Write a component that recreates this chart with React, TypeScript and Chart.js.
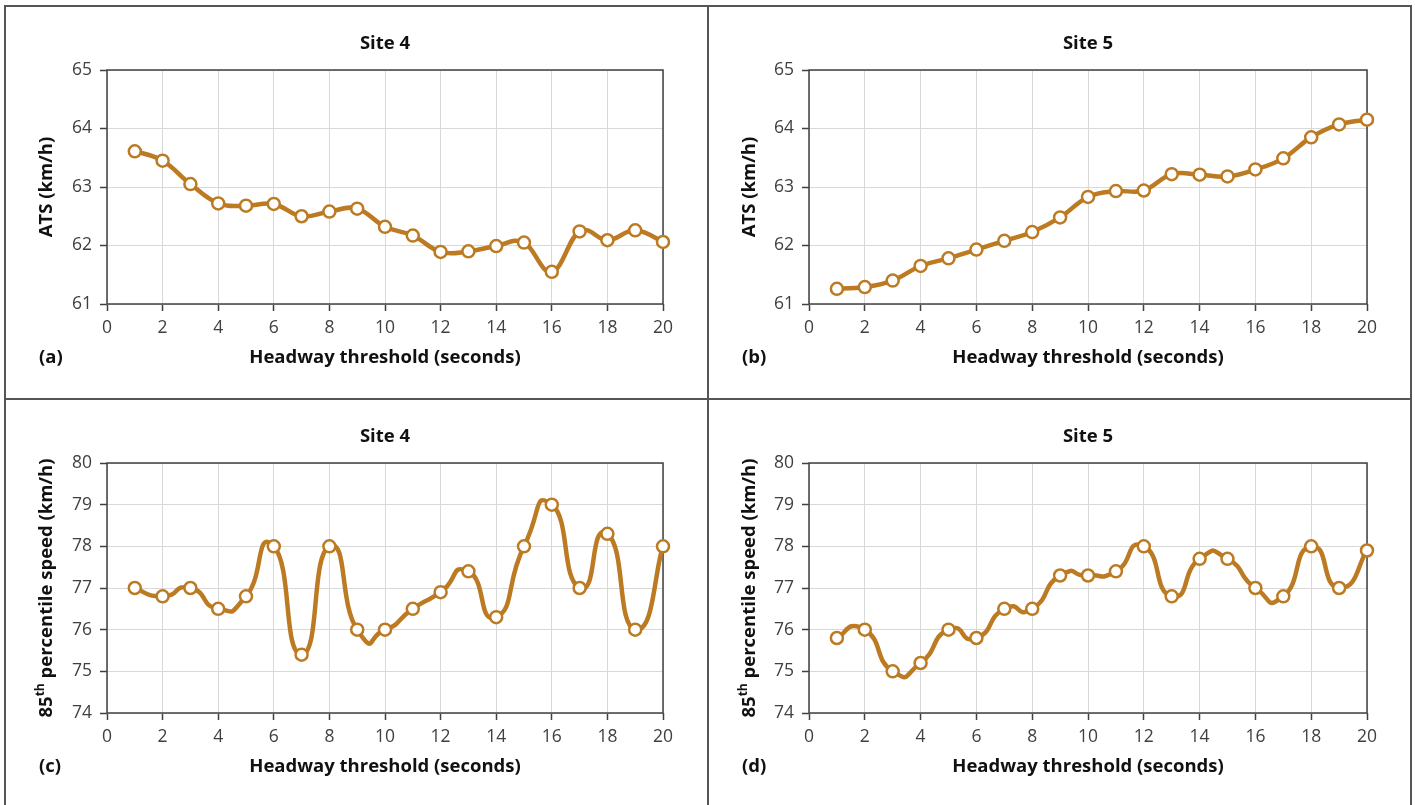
import React, { useEffect, useRef } from 'react';
import { Chart, registerables } from 'chart.js';

Chart.register(...registerables);

// ---------- data ----------
const headway = [1, 2, 3, 4, 5, 6, 7, 8, 9, 10, 11, 12, 13, 14, 15, 16, 17, 18, 19, 20];
const site4ATS = [63.61, 63.45, 63.05, 62.72, 62.68, 62.71, 62.5, 62.58, 62.63, 62.32, 62.17, 61.89, 61.9, 61.99, 62.05, 61.55, 62.24, 62.09, 62.26, 62.06];
const site5ATS = [61.26, 61.29, 61.4, 61.65, 61.78, 61.93, 62.08, 62.23, 62.48, 62.83, 62.93, 62.94, 63.22, 63.21, 63.18, 63.3, 63.49, 63.85, 64.07, 64.15];
const site4P85 = [77, 76.8, 77, 76.5, 76.8, 78, 75.4, 78, 76, 76, 76.5, 76.9, 77.4, 76.3, 78, 79, 77, 78.3, 76, 78];
const site5P85 = [75.8, 76, 75, 75.2, 76, 75.8, 76.5, 76.5, 77.3, 77.3, 77.4, 78, 76.8, 77.7, 77.7, 77, 76.8, 78, 77, 77.9];
const xRange = [0, 20];
const xStep = 2;
const atsRange = [61, 65];
const p85Range = [74, 80];
const xTitle = 'Headway threshold (seconds)';

const LINE = '#BC7A22';
const TEXT = '#404040';
const FONT = '"Open Sans", "Noto Sans", sans-serif';
// control-point offset as a fraction of the chord between the two neighbours
const CP_TOP = 0.2;
const CP_BOTTOM = 1 / 3;

type YTitlePart = { text: string; sup?: boolean };

// Excel-like smoothed line: override the Bezier control points of the line element
const smoothPlugin = {
  id: 'excelSmooth',
  beforeDatasetsDraw(chart: any, _args: any, opts: any) {
    const frac = opts && typeof opts.fraction === 'number' ? opts.fraction : 1 / 6;
    chart.getSortedVisibleDatasetMetas().forEach((meta: any) => {
      const line = meta.dataset;
      const pts = meta.data;
      if (!line || !pts || !pts.length) return;
      if (line.updateControlPoints) line.updateControlPoints(chart.chartArea, 'x');
      const n = pts.length;
      for (let i = 0; i < n; i++) {
        const p = pts[Math.max(0, i - 1)];
        const c = pts[i];
        const q = pts[Math.min(n - 1, i + 1)];
        const dx = (q.x - p.x) * frac;
        const dy = (q.y - p.y) * frac;
        c.cp1x = c.x - dx;
        c.cp1y = c.y - dy;
        c.cp2x = c.x + dx;
        c.cp2y = c.y + dy;
      }
      line._pointsUpdated = true;
      line._path = undefined;
    });
  },
};

const decoPlugin = {
  id: 'panelDeco',
  beforeDatasetsDraw(chart: any) {
    const { ctx, chartArea: a } = chart;
    ctx.save();
    ctx.strokeStyle = '#404040';
    ctx.lineWidth = 1.5;
    ctx.strokeRect(a.left, a.top, a.right - a.left, a.bottom - a.top);
    ctx.restore();
  },
  afterDraw(chart: any, _args: any, opts: any) {
    const { ctx, chartArea: a } = chart;
    const cx = (a.left + a.right) / 2;
    const cy = (a.top + a.bottom) / 2;
    ctx.save();
    ctx.fillStyle = '#111';
    ctx.textBaseline = 'middle';
    const normal = `bold 18.5px ${FONT}`;
    const small = `bold 12px ${FONT}`;
    ctx.textAlign = 'center';
    ctx.font = normal;
    ctx.fillText(opts.title, cx, a.top - 26);
    ctx.fillText(opts.xTitle, cx, a.bottom + 54);
    ctx.textAlign = 'left';
    ctx.fillText(opts.letter, opts.letterX, a.bottom + 54);
    const parts: YTitlePart[] = opts.yTitle;
    let total = 0;
    const widths = parts.map((p) => {
      ctx.font = p.sup ? small : normal;
      const w = ctx.measureText(p.text).width;
      total += w;
      return w;
    });
    ctx.translate(opts.yTitleX, cy);
    ctx.rotate(-Math.PI / 2);
    let x = -total / 2;
    parts.forEach((p, i) => {
      ctx.font = p.sup ? small : normal;
      ctx.fillText(p.text, x, p.sup ? -6 : 0);
      x += widths[i];
    });
    ctx.restore();
  },
};

type PanelProps = {
  box: { left: number; top: number; w: number; h: number };
  plot: { x0: number; y0: number; x1: number; y1: number };
  values: number[];
  yRange: number[];
  title: string;
  yTitle: YTitlePart[];
  letter: string;
  smooth: number;
};

function Panel({ box, plot, values, yRange, title, yTitle, letter, smooth }: PanelProps) {
  const ref = useRef<HTMLCanvasElement | null>(null);
  useEffect(() => {
    if (!ref.current) return;
    const yAxisWidth = plot.x0 - box.left;
    const xAxisHeight = box.top + box.h - plot.y1;
    const chart = new Chart(ref.current, {
      type: 'line',
      data: {
        datasets: [
          {
            data: headway.map((x, i) => ({ x, y: values[i] })),
            borderColor: LINE,
            borderWidth: 4.5,
            backgroundColor: '#ffffff',
            pointBackgroundColor: '#ffffff',
            pointBorderColor: LINE,
            pointBorderWidth: 2.5,
            pointRadius: 6,
            tension: 0.4,
            clip: false as any,
            fill: false,
          },
        ],
      },
      options: {
        animation: false,
        responsive: false,
        events: [],
        layout: {
          padding: {
            left: 0,
            top: plot.y0 - box.top,
            right: box.left + box.w - plot.x1,
            bottom: 0,
          },
        },
        plugins: {
          legend: { display: false },
          tooltip: { enabled: false },
          excelSmooth: { fraction: smooth },
          panelDeco: {
            title,
            xTitle,
            yTitle,
            letter,
            letterX: 33,
            yTitleX: 41,
          },
        } as any,
        scales: {
          x: {
            type: 'linear',
            min: xRange[0],
            max: xRange[1],
            afterFit: (s: any) => {
              s.height = xAxisHeight;
            },
            ticks: { stepSize: xStep, color: TEXT, font: { family: FONT, size: 17.5 }, padding: 7, maxRotation: 0 },
            grid: { color: '#d9d9d9', lineWidth: 1, tickLength: 7, tickColor: '#404040', tickWidth: 1.5 },
            border: { display: false },
          },
          y: {
            min: yRange[0],
            max: yRange[1],
            afterFit: (s: any) => {
              s.width = yAxisWidth;
            },
            ticks: { stepSize: 1, color: TEXT, font: { family: FONT, size: 17.5 }, padding: 8 },
            grid: { color: '#d9d9d9', lineWidth: 1, tickLength: 7, tickColor: '#404040', tickWidth: 1.5 },
            border: { display: false },
          },
        },
      },
      plugins: [decoPlugin, smoothPlugin],
    } as any);
    return () => chart.destroy();
  }, []);
  return (
    <canvas
      ref={ref}
      width={box.w}
      height={box.h}
      style={{ position: 'absolute', left: box.left, top: box.top, width: box.w, height: box.h }}
    />
  );
}

const atsTitle: YTitlePart[] = [{ text: 'ATS (km/h)' }];
const p85Title: YTitlePart[] = [{ text: '85' }, { text: 'th', sup: true }, { text: ' percentile speed (km/h)' }];

export default function App() {
  const line = '#555';
  return (
    <div style={{ position: 'fixed', left: 0, top: 0, width: 1415, height: 805, background: '#fff', overflow: 'hidden' }}>
      <Panel
        box={{ left: 6, top: 7, w: 701, h: 391 }}
        plot={{ x0: 107, y0: 70, x1: 663, y1: 304 }}
        values={site4ATS}
        yRange={atsRange}
        title="Site 4"
        yTitle={atsTitle}
        letter="(a)"
        smooth={CP_TOP}
      />
      <Panel
        box={{ left: 709, top: 7, w: 701, h: 391 }}
        plot={{ x0: 809, y0: 70, x1: 1367, y1: 304 }}
        values={site5ATS}
        yRange={atsRange}
        title="Site 5"
        yTitle={atsTitle}
        letter="(b)"
        smooth={CP_TOP}
      />
      <Panel
        box={{ left: 6, top: 400, w: 701, h: 405 }}
        plot={{ x0: 107, y0: 463, x1: 663, y1: 713 }}
        values={site4P85}
        yRange={p85Range}
        title="Site 4"
        yTitle={p85Title}
        letter="(c)"
        smooth={CP_BOTTOM}
      />
      <Panel
        box={{ left: 709, top: 400, w: 701, h: 405 }}
        plot={{ x0: 809, y0: 463, x1: 1367, y1: 713 }}
        values={site5P85}
        yRange={p85Range}
        title="Site 5"
        yTitle={p85Title}
        letter="(d)"
        smooth={CP_BOTTOM}
      />
      <div style={{ position: 'absolute', left: 4, top: 5, width: 1.5, height: 800, background: line }} />
      <div style={{ position: 'absolute', left: 4, top: 5, width: 1408, height: 1.5, background: line }} />
      <div style={{ position: 'absolute', left: 1410, top: 5, width: 1.5, height: 800, background: line }} />
      <div style={{ position: 'absolute', left: 707, top: 5, width: 2, height: 800, background: line }} />
      <div style={{ position: 'absolute', left: 4, top: 398, width: 1408, height: 2, background: line }} />
    </div>
  );
}
